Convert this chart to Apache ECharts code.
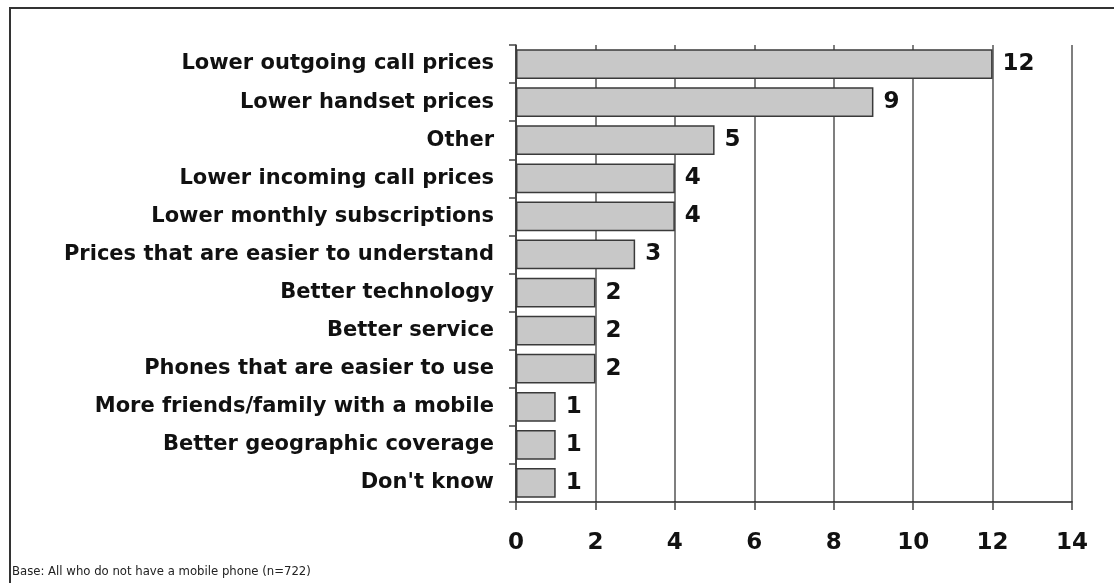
<!DOCTYPE html>
<html>
<head>
<meta charset="utf-8">
<script src="https://cdn.jsdelivr.net/npm/echarts@6/dist/echarts.min.js"></script>
<style>
html,body{margin:0;padding:0;background:#fff;}
#chart{width:1114px;height:583px;}
</style>
</head>
<body>
<div id="chart"></div>
<script>
var categories = [
  "Lower outgoing call prices",
  "Lower handset prices",
  "Other",
  "Lower incoming call prices",
  "Lower monthly subscriptions",
  "Prices that are easier to understand",
  "Better technology",
  "Better service",
  "Phones that are easier to use",
  "More friends/family with a mobile",
  "Better geographic coverage",
  "Don't know"
];
var values = [12, 9, 5, 4, 4, 3, 2, 2, 2, 1, 1, 1];
var xTicks = [0, 2, 4, 6, 8, 10, 12, 14];
var footnote = "Base: All who do not have a mobile phone (n=722)";

var chart = echarts.init(document.getElementById('chart'), null, {renderer: 'canvas'});
chart.setOption({
  animation: false,
  backgroundColor: '#ffffff',
  grid: {left: 516, right: 42, top: 45, bottom: 81, containLabel: false},
  xAxis: {
    type: 'value',
    min: xTicks[0],
    max: xTicks[xTicks.length - 1],
    interval: 2,
    axisLine: {show: true, lineStyle: {color: '#222', width: 1.5}},
    axisTick: {show: true, length: 8, lineStyle: {color: '#444', width: 1.5}},
    splitLine: {show: true, lineStyle: {color: '#555', width: 1.5}},
    axisLabel: {
      margin: 30,
      color: '#111',
      fontFamily: 'DejaVu Sans',
      fontWeight: 'bold',
      fontSize: 23
    }
  },
  yAxis: {
    type: 'category',
    data: categories,
    inverse: true,
    axisLine: {show: true, lineStyle: {color: '#333', width: 1.5}},
    axisTick: {show: true, length: 7, lineStyle: {color: '#444', width: 1.5}},
    axisLabel: {
      margin: 22,
      color: '#111',
      fontFamily: 'DejaVu Sans',
      fontWeight: 'bold',
      fontSize: 21
    }
  },
  series: [{
    type: 'bar',
    data: values,
    barCategoryGap: '22%',
    itemStyle: {color: '#c8c8c8', borderColor: '#3a3a3a', borderWidth: 1.5},
    label: {
      show: true,
      position: 'right',
      distance: 10,
      color: '#111',
      fontFamily: 'DejaVu Sans',
      fontWeight: 'bold',
      fontSize: 23
    }
  }],
  graphic: [
    {
      type: 'rect',
      shape: {x: 10, y: 8, width: 1120, height: 600},
      style: {fill: 'none', stroke: '#333', lineWidth: 2},
      silent: true
    },
    {
      type: 'text',
      left: 12,
      top: 566,
      style: {
        text: footnote,
        fill: '#222',
        font: '11.7px "DejaVu Sans"'
      }
    }
  ]
});
</script>
</body>
</html>
